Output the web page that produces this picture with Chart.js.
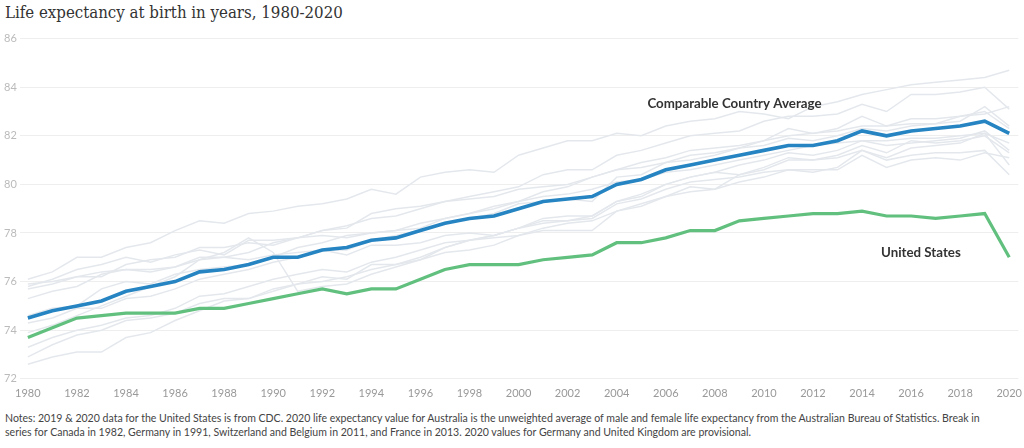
<!DOCTYPE html>
<html>
<head>
<meta charset="utf-8">
<script src="https://cdn.jsdelivr.net/npm/chart.js@4.4.1/dist/chart.umd.min.js"></script>
<style>
  html, body { margin: 0; padding: 0; background: #fff; }
  body { width: 1024px; height: 448px; position: relative; overflow: hidden; }
  #title {
    position: absolute; left: 5px; top: 2px;
    font-family: "DejaVu Serif Condensed", "DejaVu Serif", serif;
    font-size: 16.7px; color: #333; white-space: nowrap;
  }
  #chartBox { position: absolute; left: 1px; top: 29px; width: 1021px; height: 371px; }
  #notes {
    position: absolute; left: 5px; top: 411px;
    font-family: Lato, "Noto Sans", sans-serif;
    font-size: 10.55px; line-height: 14px; color: #444; white-space: nowrap;
  }
</style>
</head>
<body>
<div id="title">Life expectancy at birth in years, 1980-2020</div>
<div id="chartBox"><canvas id="lifeChart"></canvas></div>
<div id="notes">Notes: 2019 &amp; 2020 data for the United States is from CDC. 2020 life expectancy value for Australia is the unweighted average of male and female life expectancy from the Australian Bureau of Statistics. Break in<br>series for Canada in 1982, Germany in 1991, Switzerland and Belgium in 2011, and France in 2013. 2020 values for Germany and United Kingdom are provisional.</div>

<script>
// years 1980..2020
const years = [
  1980, 1981, 1982, 1983, 1984, 1985, 1986, 1987, 1988, 1989,
  1990, 1991, 1992, 1993, 1994, 1995, 1996, 1997, 1998, 1999,
  2000, 2001, 2002, 2003, 2004, 2005, 2006, 2007, 2008, 2009,
  2010, 2011, 2012, 2013, 2014, 2015, 2016, 2017, 2018, 2019, 2020,
];
const xTickYears = [1980, 1982, 1984, 1986, 1988, 1990, 1992, 1994, 1996, 1998, 2000,
  2002, 2004, 2006, 2008, 2010, 2012, 2014, 2016, 2018, 2020];
const yTickValues = [72, 74, 76, 78, 80, 82, 84, 86];

const unitedStates = [
  73.7, 74.1, 74.5, 74.6, 74.7, 74.7, 74.7, 74.9, 74.9, 75.1,
  75.3, 75.5, 75.7, 75.5, 75.7, 75.7, 76.1, 76.5, 76.7, 76.7,
  76.7, 76.9, 77.0, 77.1, 77.6, 77.6, 77.8, 78.1, 78.1, 78.5,
  78.6, 78.7, 78.8, 78.8, 78.9, 78.7, 78.7, 78.6, 78.7, 78.8, 77.0,
];
const comparableAvg = [
  74.5, 74.8, 75.0, 75.2, 75.6, 75.8, 76.0, 76.4, 76.5, 76.7,
  77.0, 77.0, 77.3, 77.4, 77.7, 77.8, 78.1, 78.4, 78.6, 78.7,
  79.0, 79.3, 79.4, 79.5, 80.0, 80.2, 80.6, 80.8, 81.0, 81.2,
  81.4, 81.6, 81.6, 81.8, 82.2, 82.0, 82.2, 82.3, 82.4, 82.6, 82.1,
];

// individual comparable countries (faint background lines)
const japan = [
  76.1, 76.4, 77.0, 77.0, 77.4, 77.6, 78.1, 78.5, 78.4, 78.8,
  78.9, 79.1, 79.2, 79.4, 79.8, 79.6, 80.3, 80.5, 80.6, 80.5,
  81.2, 81.5, 81.8, 81.8, 82.1, 82.0, 82.4, 82.6, 82.7, 83.0,
  82.9, 82.7, 83.2, 83.4, 83.7, 83.9, 84.1, 84.2, 84.3, 84.4, 84.7,
];
const switzerland = [
  75.7, 75.9, 76.2, 76.2, 76.7, 76.9, 77.0, 77.4, 77.4, 77.6,
  77.5, 77.8, 78.1, 78.3, 78.6, 78.7, 79.0, 79.3, 79.5, 79.7,
  79.9, 80.4, 80.6, 80.6, 81.2, 81.4, 81.7, 82.0, 82.1, 82.2,
  82.6, 82.8, 82.8, 82.9, 83.3, 83.0, 83.7, 83.7, 83.8, 84.0, 83.1,
];
const sweden = [
  75.8, 76.1, 76.5, 76.7, 77.0, 76.8, 77.1, 77.3, 77.1, 77.7,
  77.7, 77.8, 78.1, 78.2, 78.8, 79.0, 79.1, 79.3, 79.4, 79.5,
  79.8, 79.9, 80.0, 80.3, 80.6, 80.7, 80.9, 81.0, 81.2, 81.5,
  81.6, 81.9, 81.8, 82.0, 82.3, 82.2, 82.4, 82.5, 82.6, 83.2, 82.4,
];
const australia = [
  74.6, 74.9, 75.0, 75.7, 76.0, 75.9, 76.3, 76.5, 76.6, 76.7,
  77.0, 77.4, 77.6, 77.9, 78.0, 78.1, 78.2, 78.6, 78.8, 79.1,
  79.3, 79.7, 79.9, 80.3, 80.6, 80.9, 81.1, 81.4, 81.5, 81.6,
  81.8, 82.0, 82.1, 82.2, 82.4, 82.4, 82.5, 82.5, 82.8, 82.9, 83.2,
];
const canada = [
  75.3, 75.6, 75.8, 76.3, 76.5, 76.5, 76.6, 76.9, 77.0, 77.2,
  77.6, 77.8, 77.9, 77.8, 78.0, 78.1, 78.4, 78.6, 78.8, 79.0,
  79.3, 79.5, 79.6, 79.8, 80.1, 80.2, 80.5, 80.6, 80.8, 81.0,
  81.2, 81.4, 81.6, 81.7, 81.8, 81.8, 81.9, 81.9, 82.0, 82.1, 81.7,
];
const netherlands = [
  75.9, 76.0, 76.2, 76.4, 76.5, 76.4, 76.6, 77.0, 77.0, 76.9,
  77.1, 77.2, 77.3, 77.1, 77.5, 77.5, 77.6, 77.9, 78.0, 77.9,
  78.2, 78.4, 78.5, 78.7, 79.3, 79.6, 80.0, 80.3, 80.5, 80.8,
  81.0, 81.3, 81.2, 81.4, 81.8, 81.6, 81.7, 81.8, 81.9, 82.2, 81.4,
];
const france = [
  74.3, 74.5, 74.9, 74.9, 75.3, 75.4, 75.7, 76.1, 76.3, 76.5,
  76.8, 77.0, 77.3, 77.3, 77.7, 77.9, 78.1, 78.4, 78.6, 78.8,
  79.2, 79.3, 79.4, 79.3, 80.3, 80.4, 80.9, 81.2, 81.3, 81.5,
  81.8, 82.3, 82.1, 82.3, 82.8, 82.4, 82.7, 82.7, 82.8, 83.0, 82.3,
];
const austria = [
  72.6, 72.9, 73.1, 73.1, 73.7, 73.9, 74.4, 74.8, 75.2, 75.3,
  75.6, 75.9, 76.0, 76.2, 76.5, 76.7, 77.0, 77.4, 77.7, 77.9,
  78.2, 78.6, 78.7, 78.7, 79.3, 79.5, 80.0, 80.3, 80.5, 80.4,
  80.7, 81.1, 81.0, 81.2, 81.6, 81.3, 81.8, 81.7, 81.8, 82.0, 81.3,
];
const germany = [
  73.9, 74.2, 74.6, 75.0, 75.4, 75.8, 76.2, 76.9, 77.2, 77.8,
  77.2, 75.6, 75.8, 75.9, 76.3, 76.6, 76.9, 77.4, 77.7, 77.9,
  78.2, 78.5, 78.5, 78.6, 79.2, 79.4, 79.8, 80.1, 80.2, 80.3,
  80.5, 80.6, 80.6, 80.6, 81.2, 80.7, 81.0, 81.1, 81.0, 81.3, 81.1,
];
const belgium = [
  73.3, 73.7, 74.0, 74.2, 74.5, 74.6, 74.9, 75.4, 75.5, 75.8,
  76.1, 76.3, 76.5, 76.4, 76.8, 77.0, 77.3, 77.6, 77.7, 77.8,
  77.9, 78.1, 78.1, 78.1, 78.9, 79.1, 79.5, 79.9, 79.8, 80.1,
  80.3, 80.6, 80.5, 80.7, 81.4, 81.1, 81.5, 81.6, 81.7, 82.1, 80.8,
];
const unitedKingdom = [
  72.9, 73.4, 73.8, 74.0, 74.4, 74.5, 74.7, 75.1, 75.3, 75.3,
  75.7, 75.9, 76.2, 76.1, 76.7, 76.7, 76.9, 77.2, 77.3, 77.5,
  77.9, 78.2, 78.4, 78.5, 78.9, 79.2, 79.5, 79.7, 79.8, 80.4,
  80.6, 81.0, 81.0, 81.1, 81.4, 81.0, 81.2, 81.3, 81.3, 81.4, 80.4,
];

const countryLines = [japan, switzerland, sweden, australia, canada, netherlands,
  france, austria, germany, belgium, unitedKingdom];

const toPoints = (vals) => vals.map((v, i) => ({ x: years[i], y: v }));

const grayDatasets = countryLines.map((vals) => ({
  data: toPoints(vals),
  borderColor: "#e4e8ed",
  borderWidth: 1.5,
  pointRadius: 0,
  tension: 0,
  order: 3,
}));

// text labels next to the two highlighted lines
const seriesLabels = {
  id: "seriesLabels",
  afterDatasetsDraw(chart) {
    const { ctx, scales } = chart;
    ctx.save();
    ctx.font = "bold 13.3px Lato, 'Noto Sans', sans-serif";
    ctx.fillStyle = "#333";
    ctx.textAlign = "center";
    ctx.textBaseline = "middle";
    ctx.fillText("Comparable Country Average", scales.x.getPixelForValue(2008.8), scales.y.getPixelForValue(83.33));
    ctx.fillText("United States", scales.x.getPixelForValue(2016.4), scales.y.getPixelForValue(77.2));
    ctx.restore();
  },
};

new Chart(document.getElementById("lifeChart"), {
  type: "line",
  data: {
    datasets: [
      ...grayDatasets,
      {
        label: "United States",
        data: toPoints(unitedStates),
        borderColor: "#62c07f",
        borderWidth: 3.2,
        pointRadius: 0,
        tension: 0,
        order: 2,
      },
      {
        label: "Comparable Country Average",
        data: toPoints(comparableAvg),
        borderColor: "#2584c1",
        borderWidth: 3.6,
        pointRadius: 0,
        tension: 0,
        order: 1,
      },
    ],
  },
  options: {
    responsive: true,
    maintainAspectRatio: false,
    animation: false,
    layout: { padding: { top: 2, right: 0, bottom: 0, left: 0 } },
    plugins: { legend: { display: false }, tooltip: { enabled: false } },
    scales: {
      x: {
        type: "linear",
        min: 1979.67,
        max: 2020.37,
        afterBuildTicks: (scale) => {
          scale.ticks = xTickYears.map((v) => ({ value: v }));
        },
        grid: { display: false },
        border: { display: false },
        ticks: {
          color: "#999",
          font: { family: "Lato, 'Noto Sans', sans-serif", size: 11 },
          padding: 0,
          maxRotation: 0,
          autoSkip: false,
          callback: (v) => String(v),
        },
      },
      y: {
        min: 72,
        max: 86,
        afterBuildTicks: (scale) => {
          scale.ticks = yTickValues.map((v) => ({ value: v }));
        },
        grid: { color: "#eeeeee", lineWidth: 1, drawTicks: false },
        border: { display: false },
        ticks: {
          color: "#bbb",
          font: { family: "Lato, 'Noto Sans', sans-serif", size: 11 },
          padding: 3,
        },
      },
    },
  },
  plugins: [seriesLabels],
});
</script>
</body>
</html>
